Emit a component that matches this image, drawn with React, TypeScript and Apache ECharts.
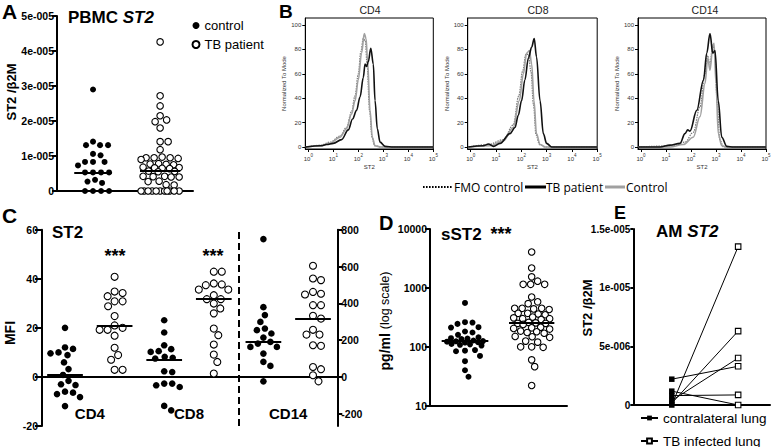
import React, { useEffect, useRef } from "react";
import * as echarts from "echarts";

const FONT = "'Liberation Sans', Arial, Helvetica, sans-serif";
const OPEN = "'Open Sans', 'Noto Sans', sans-serif";

// ---------------- Panel A : PBMC ST2 / β2M ----------------
const A_GROUPS = ["control", "TB patient"];
const A_CONTROL = [2.9e-5, 1.41e-5, 1.31e-5, 1.31e-5, 1.31e-5, 1.06e-5, 1.02e-5, 0.83e-5, 0.83e-5, 0.83e-5, 0.73e-5,
  0.53e-5, 0.53e-5, 0.53e-5, 0.53e-5, 0.32e-5, 0.27e-5, 0.23e-5, 0, 0, 0, 0];
const A_TB = [4.26e-5, 2.72e-5, 2.43e-5, 2.15e-5, 2.03e-5, 1.98e-5, 1.8e-5, 1.41e-5, 1.41e-5, 1.18e-5,
  0.97e-5, 0.95e-5, 0.95e-5, 0.95e-5, 0.93e-5, 0.9e-5, 0.78e-5, 0.77e-5, 0.76e-5, 0.75e-5,
  0.68e-5, 0.67e-5, 0.66e-5, 0.65e-5, 0.64e-5, 0.57e-5, 0.56e-5, 0.55e-5, 0.42e-5, 0.42e-5, 0.41e-5, 0.4e-5, 0.4e-5,
  0.28e-5, 0.27e-5, 0.18e-5, 0.17e-5, 0, 0, 0, 0, 0, 0, 0, 0, 0, 0, 0];
const A_MEDIANS = [0.51e-5, 0.57e-5];

// ---------------- Panel B : flow histograms (x = log10 ST2, y = % of mode) ----------------
const B_PANELS = ["CD4", "CD8", "CD14"];
const B_LEGEND = ["FMO control", "TB patient", "Control"];
const CD4_FMO = [[-0.1, 0], [0.5, 1.5], [0.87, 4], [1.27, 9], [1.53, 16], [1.73, 29], [1.87, 42], [2.0, 60], [2.1, 78], [2.2, 89], [2.28, 87], [2.35, 68], [2.45, 30], [2.55, 8], [2.65, 1], [2.9, 0], [5, 0]];
const CD4_TB = [[-0.1, 0], [0.5, 1], [0.73, 2], [1.0, 3], [1.33, 6], [1.6, 14], [1.77, 23], [1.93, 30], [2.07, 41], [2.2, 57], [2.27, 68], [2.33, 66], [2.4, 70], [2.5, 81], [2.6, 68], [2.67, 38], [2.76, 15], [2.87, 4], [3.07, 0.5], [3.4, 0], [5, 0]];
const CD4_CONTROL = [[-0.1, 0], [0.5, 1], [0.87, 3], [1.27, 8], [1.53, 15], [1.73, 27], [1.87, 38], [2.0, 55], [2.13, 77], [2.24, 93], [2.31, 89], [2.37, 71], [2.47, 30], [2.56, 8], [2.67, 1], [2.9, 0], [5, 0]];
const CD8_FMO = [[-0.1, 0], [0.7, 2], [1.29, 6], [1.68, 18], [1.9, 42], [2.05, 62], [2.18, 76], [2.28, 76], [2.38, 62], [2.48, 35], [2.58, 10], [2.72, 2], [2.95, 0], [5, 0]];
const CD8_TB = [[-0.1, 0], [0.5, 1], [0.7, 2.5], [0.9, 0.5], [1.16, 3], [1.55, 11], [1.75, 16], [1.88, 26], [2.01, 38], [2.14, 55], [2.28, 73], [2.41, 82], [2.51, 89], [2.6, 74], [2.74, 38], [2.87, 11], [3.0, 3], [3.2, 0], [5, 0]];
const CD8_CONTROL = [[-0.1, 0], [0.76, 1], [1.29, 5], [1.68, 16], [1.92, 38], [2.08, 60], [2.21, 77], [2.32, 79], [2.41, 68], [2.5, 38], [2.6, 11], [2.74, 2], [2.95, 0], [5, 0]];
const CD14_FMO = [[-0.1, 0], [1.3, 1], [1.76, 4], [2.09, 12], [2.36, 33], [2.56, 60], [2.66, 75], [2.76, 68], [2.87, 84], [2.95, 78], [3.05, 35], [3.15, 6], [3.3, 0], [5, 0]];
const CD14_TB = [[-0.1, 0], [0.76, 0], [1.16, 1.5], [1.56, 3], [1.76, 11], [1.87, 14], [1.96, 13], [2.23, 30], [2.5, 55], [2.63, 77], [2.76, 93], [2.87, 77], [2.96, 79], [3.09, 38], [3.23, 8], [3.43, 0.5], [3.7, 0], [5, 0]];
const CD14_CONTROL = [[-0.1, 0], [1.16, 0], [1.69, 2], [2.09, 8], [2.36, 25], [2.56, 52], [2.67, 73], [2.76, 63], [2.87, 82], [2.92, 85], [3.0, 52], [3.09, 11], [3.23, 1], [3.45, 0], [5, 0]];

// ---------------- Panel C : ST2 MFI ----------------
const C_GROUPS = ["CD4", "CD8", "CD14"];
const C_CD4_CONTROL = [20, 12, 11.4, 10, 9.6, 8.9, 5.9, 3.2, 0.8, -1.6, -3, -3.3, -6, -6.4, -7, -8.2, -11.9];
const C_CD4_TB = [40.8, 34.8, 34.2, 32.9, 30.8, 30.8, 28.8, 24.8, 21, 20, 19.2, 19.2, 16.8, 11.9, 8.9, 7, 2.9, 2.9];
const C_CD8_CONTROL = [23.1, 18.1, 12.9, 11.3, 10.5, 10.2, 8.2, 7.8, 7.5, 2.3, 2, -2.7, -2.7, -3.4, -4.1, -11.8, -13.6];
const C_CD8_TB = [42.9, 42.9, 38.1, 37.7, 37.4, 35.6, 35.6, 33.3, 31.7, 31.7, 29.9, 27.9, 25.9, 19.7, 17, 13.2, 9.1, 6.1, 1.4];
const C_CD14_CONTROL = [749, 379, 336, 299, 263, 254, 236, 214, 190, 181, 163, 163, 127, 82, 60, -24];
const C_CD14_TB = [604, 535, 526, 462, 452, 448, 390, 390, 332, 317, 256, 230, 230, 172, 169, 54, 42, 9, -24];
const C_MEDIANS = [1, 21, 7, 32, 190, 317];

// ---------------- Panel D : serum sST2 (pg/ml) ----------------
const D_CONTROL = [555, 262, 258, 245, 215, 212, 182, 175, 160, 145, 140, 138, 135, 128, 125, 124, 122, 120, 118, 112, 110, 108, 105, 88, 86, 84, 70, 57, 40, 31];
const D_TB = [4070, 2180, 1540, 1300, 1150, 1150, 1150, 700, 580, 540, 450, 450, 450, 440, 430, 370, 370, 360, 350, 320, 310, 300, 300, 290,
  260, 255, 250, 250, 240, 215, 210, 205, 200, 185, 180, 175, 170, 150, 148, 145, 125, 120, 100, 100, 98, 60, 46, 22];
const D_MEDIANS = [125, 255];

// ---------------- Panel E : AM ST2 paired ----------------
const E_LEGEND = ["contralateral lung", "TB infected lung"];
const E_CONTRA = [2.2e-6, 1.18e-6, 0.8e-6, 0, 0.15e-6, 0.38e-6];
const E_INFECTED = [3.3e-6, 0, 0.86e-6, 13.5e-6, 6.3e-6, 4.0e-6];

// ---------- helpers ----------
function swarm(values: number[], center: number, pxPerX: number, yPx: (v: number) => number, d: number, maxHalf: number) {
  const placed: Array<[number, number]> = [];
  const out: number[][] = [];
  const sorted = [...values].sort((a, b) => b - a);
  for (const v of sorted) {
    const py = yPx(v);
    let chosen: number | null = null;
    for (let k = 0; k <= maxHalf * 4; k++) {
      const off = (k % 2 === 1 ? 1 : -1) * Math.ceil(k / 2) * 0.5 + 0;
      if (placed.every(([x, y]) => (x - off) ** 2 + (y - py) ** 2 >= d * d)) { chosen = off; break; }
    }
    if (chosen === null) {
      let best = 0, bestD = -1;
      for (let off = -maxHalf; off <= maxHalf; off += 0.5) {
        const md = Math.min(...placed.map(([x, y]) => (x - off) ** 2 + (y - py) ** 2));
        if (md > bestD) { bestD = md; best = off; }
      }
      chosen = best;
    }
    placed.push([chosen, py]);
    out.push([center + chosen / pxPerX, v]);
  }
  return out;
}

function prismExp(v: number) {
  if (Math.abs(v) < 1e-12) return "0";
  const e = Math.floor(Math.log10(Math.abs(v)) + 1e-9);
  const m = +(v / Math.pow(10, e)).toFixed(2);
  return `${m}e-${String(-e).padStart(3, "0")}`;
}

const filled = (size: number) => ({ symbol: "circle", symbolSize: size, itemStyle: { color: "#000", opacity: 1 } });
const open = (size: number) => ({ symbol: "circle", symbolSize: size, itemStyle: { color: "#fff", borderColor: "#000", borderWidth: 1.1, opacity: 1 } });

function median(center: number, half: number, value: number) {
  return {
    silent: true, symbol: ["none", "none"], label: { show: false },
    lineStyle: { color: "#000", width: 2, type: "solid", opacity: 1 },
    emphasis: { disabled: true },
    data: [[{ coord: [center - half, value] }, { coord: [center + half, value] }]],
  };
}

const tickLabel = (size = 10) => ({ color: "#000", fontFamily: FONT, fontWeight: "bold", fontSize: size });

function txt(text: string, x: number, y: number, style: any = {}, extra: any = {}) {
  return {
    type: "text", x, y, silent: true, ...extra,
    style: { text, fill: "#000", fontFamily: FONT, fontSize: 17, fontWeight: "bold", align: "left", verticalAlign: "middle", ...style },
  };
}

function buildOption() {
  const series: any[] = [];

  // ---- A ----
  const aPx = (v: number) => (v / 5e-5) * 175;
  series.push({ type: "scatter", name: A_GROUPS[0], xAxisIndex: 0, yAxisIndex: 0, ...filled(6), z: 3,
    data: swarm(A_CONTROL, 0, 67, aPx, 7.6, 18), markLine: median(0, 0.28, A_MEDIANS[0]) });
  series.push({ type: "scatter", name: A_GROUPS[1], xAxisIndex: 0, yAxisIndex: 0, ...open(6.5), z: 3,
    data: swarm(A_TB, 1, 67, aPx, 7.6, 19), markLine: median(1, 0.3, A_MEDIANS[1]) });

  // ---- B ----
  const curves = [
    [CD4_FMO, CD4_TB, CD4_CONTROL],
    [CD8_FMO, CD8_TB, CD8_CONTROL],
    [CD14_FMO, CD14_TB, CD14_CONTROL],
  ];
  curves.forEach(([fmo, tb, ctrl], i) => {
    const base = { type: "line", xAxisIndex: i + 1, yAxisIndex: i + 1, smooth: 0.35, smoothMonotone: "x", showSymbol: false, symbol: "none", silent: true };
    series.push({ ...base, name: `B ${B_LEGEND[0]} ${i}`, data: fmo, z: 2, lineStyle: { color: "#777", width: 1.2, type: [1.5, 1] } });
    series.push({ ...base, name: `B ${B_LEGEND[2]} ${i}`, data: ctrl, z: 3, lineStyle: { color: "#a0a0a0", width: 1.6 } });
    series.push({ ...base, name: `B ${B_LEGEND[1]} ${i}`, data: tb, z: 4, lineStyle: { color: "#111", width: 1.6 } });
  });

  // ---- C ----
  const cLeft = (v: number) => (v / 20) * 49.05;
  const cRight = (v: number) => (v / 800) * 60 / 20 * 49.05;
  const cSets = [C_CD4_CONTROL, C_CD4_TB, C_CD8_CONTROL, C_CD8_TB, C_CD14_CONTROL, C_CD14_TB];
  cSets.forEach((vals, k) => {
    const right = k >= 4;
    const isTB = k % 2 === 1;
    series.push({
      type: "scatter", name: `C ${C_GROUPS[Math.floor(k / 2)]} ${isTB ? "TB" : "control"}`,
      xAxisIndex: 4, yAxisIndex: right ? 5 : 4, z: 3,
      ...(isTB ? open(7) : filled(6.6)),
      data: swarm(vals, k, 49.6, right ? cRight : cLeft, 8, 20),
      markLine: median(k, 0.36, C_MEDIANS[k]),
    });
  });
  // divider between T cells and monocytes + group labels
  series.push({
    type: "scatter", name: "C labels", xAxisIndex: 4, yAxisIndex: 4, silent: true, symbol: "circle", symbolSize: 0,
    itemStyle: { color: "#000", opacity: 1 },
    data: C_GROUPS.map((g, i) => ({ name: g, value: [2 * i + 0.5, -20] })),
    label: { show: true, position: "top", distance: 5, formatter: "{b}", color: "#000", opacity: 1, fontFamily: FONT, fontWeight: "bold", fontSize: 15 },
    markLine: { silent: true, symbol: ["none", "none"], label: { show: false }, lineStyle: { color: "#000", width: 2, type: [7, 4], opacity: 1 }, data: [{ xAxis: 3.5 }] },
  });

  // ---- D ----
  const dPx = (v: number) => Math.log10(v) * 59;
  series.push({ type: "scatter", name: "D control", xAxisIndex: 5, yAxisIndex: 6, ...filled(6), z: 3,
    data: swarm(D_CONTROL, 0, 66.7, dPx, 7.4, 18), markLine: median(0, 0.35, D_MEDIANS[0]) });
  series.push({ type: "scatter", name: "D TB", xAxisIndex: 5, yAxisIndex: 6, ...open(6.5), z: 3,
    data: swarm(D_TB, 1, 66.7, dPx, 7.4, 18), markLine: median(1, 0.34, D_MEDIANS[1]) });

  // ---- E ----
  E_CONTRA.forEach((c, i) => {
    series.push({
      type: "line", name: `E pair ${i}`, xAxisIndex: 6, yAxisIndex: 7, symbol: "rect", symbolSize: 5.5, showAllSymbol: true, silent: true,
      lineStyle: { color: "#000", width: 1 }, itemStyle: { color: "#000", opacity: 1 }, z: 3,
      data: [
        { value: [0, c], itemStyle: { color: "#000" } },
        { value: [1, E_INFECTED[i]], itemStyle: { color: "#fff", borderColor: "#000", borderWidth: 1.1 } },
      ],
    });
  });
  series.push({ type: "line", name: E_LEGEND[0], xAxisIndex: 6, yAxisIndex: 7, data: [], symbol: "rect", symbolSize: 6,
    lineStyle: { color: "#000", width: 1 }, itemStyle: { color: "#000" } });
  series.push({ type: "line", name: E_LEGEND[1], xAxisIndex: 6, yAxisIndex: 7, data: [], symbol: "rect", symbolSize: 6,
    lineStyle: { color: "#000", width: 1 }, itemStyle: { color: "#fff", borderColor: "#000", borderWidth: 1.1 } });

  const blackLine = (w = 2) => ({ show: true, onZero: false, lineStyle: { color: "#000", width: w } });
  const noSplit = { show: false };

  const gridBase = { containLabel: false, outerBoundsMode: "none" };
  const box = { show: true, borderColor: "#000", borderWidth: 1, backgroundColor: "transparent" };
  const grid = [
    { ...gridBase, left: 57, top: 16, width: 136, height: 175 },
    { ...gridBase, ...box, left: 305.3, top: 18, width: 128, height: 131 },
    { ...gridBase, ...box, left: 467.7, top: 18, width: 129.5, height: 131 },
    { ...gridBase, ...box, left: 638, top: 18, width: 128, height: 131 },
    { ...gridBase, left: 42, top: 229.7, width: 295.3, height: 196.3 },
    { ...gridBase, left: 430, top: 229, width: 137, height: 176.7 },
    { ...gridBase, left: 633.3, top: 229, width: 136.7, height: 176 },
  ];

  const bX = (gi: number) => ({
    gridIndex: gi, type: "value", min: -0.12, max: 5, splitNumber: 5,
    axisLine: blackLine(1), splitLine: noSplit,
    axisTick: { show: true, length: 3, lineStyle: { color: "#000", width: 1 } },
    axisLabel: {
      show: true, showMinLabel: false, margin: 4, color: "#333",
      formatter: (v: number) => `{b|10}{s|${Math.round(v)}}`,
      rich: { b: { fontSize: 6, fontFamily: FONT, color: "#333", verticalAlign: "bottom", lineHeight: 9 }, s: { fontSize: 4.5, fontFamily: FONT, color: "#333", verticalAlign: "top", lineHeight: 9 } },
    },
    name: "ST2", nameLocation: "middle", nameGap: 15, nameTextStyle: { fontSize: 6, fontFamily: FONT, color: "#333" },
  });
  const bY = (gi: number) => ({
    gridIndex: gi, type: "value", min: -1.65, max: 105.8, splitNumber: 5,
    axisLine: blackLine(1), splitLine: noSplit,
    axisTick: { show: true, length: 3, lineStyle: { color: "#000", width: 1 } },
    axisLabel: { show: true, showMinLabel: false, showMaxLabel: false, margin: 4, fontSize: 6, fontFamily: FONT, color: "#333" },
    name: "Normalized To Mode", nameLocation: "middle", nameRotate: 90, nameGap: 18,
    nameTextStyle: { fontSize: 6, fontFamily: FONT, color: "#333" },
  });

  const xAxis = [
    { gridIndex: 0, type: "value", min: -0.537, max: 1.49, axisLine: blackLine(2), axisTick: { show: false }, axisLabel: { show: false }, splitLine: noSplit },
    bX(1), bX(2), bX(3),
    { gridIndex: 4, type: "value", min: -0.464, max: 5.49, axisLine: { show: true, onZero: true, lineStyle: { color: "#000", width: 2 } }, axisTick: { show: false }, axisLabel: { show: false }, splitLine: noSplit },
    { gridIndex: 5, type: "value", min: -0.525, max: 1.53, axisLine: blackLine(2), axisTick: { show: false }, axisLabel: { show: false }, splitLine: noSplit },
    { gridIndex: 6, type: "value", min: -0.58, max: 1.48, axisLine: blackLine(2), axisTick: { show: false }, axisLabel: { show: false }, splitLine: noSplit },
  ];

  const yTick = (len: number) => ({ show: true, length: len, lineStyle: { color: "#000", width: 2 } });
  const yAxis = [
    { gridIndex: 0, type: "value", min: 0, max: 5e-5, interval: 1e-5, axisLine: blackLine(2), axisTick: yTick(5), splitLine: noSplit,
      axisLabel: { ...tickLabel(10.5), margin: 3, formatter: (v: number) => prismExp(v) } },
    bY(1), bY(2), bY(3),
    { gridIndex: 4, type: "value", min: -20, max: 60, interval: 20, axisLine: blackLine(2), axisTick: yTick(7), splitLine: noSplit,
      axisLabel: { ...tickLabel(10.5), margin: 4 } },
    { gridIndex: 4, type: "value", position: "right", min: -266.67, max: 800, splitNumber: 5, axisLine: blackLine(2), axisTick: yTick(5), splitLine: noSplit,
      axisLabel: { ...tickLabel(10.5), margin: 4, showMinLabel: false } },
    { gridIndex: 5, type: "log", logBase: 10, min: 10, max: 10000, axisLine: blackLine(2), axisTick: yTick(5), splitLine: noSplit,
      axisLabel: { ...tickLabel(10.5), margin: 3, formatter: (v: number) => String(Math.round(v)) } },
    { gridIndex: 6, type: "value", min: 0, max: 1.5e-5, interval: 5e-6, axisLine: blackLine(2), axisTick: yTick(3), splitLine: noSplit,
      axisLabel: { ...tickLabel(10), margin: 3, formatter: (v: number) => prismExp(v) } },
  ];

  const rot = { rotation: Math.PI / 2 };
  const center = { align: "center" };
  const graphic: any[] = [
    txt("A", 2, 11, { fontSize: 21 }),
    txt("B", 279, 11, { fontSize: 19 }),
    txt("C", 2, 215, { fontSize: 21 }),
    txt("D", 379, 223, { fontSize: 20 }),
    txt("E", 614, 213, { fontSize: 18 }),
    txt("", 68, 17, { text: "{b|PBMC }{i|ST2}", rich: { b: { fontSize: 17, fontWeight: "bold", fontFamily: FONT }, i: { fontSize: 17, fontWeight: "bold", fontStyle: "italic", fontFamily: FONT } } }),
    txt("ST2 /β2M", 11, 92, { ...center, fontSize: 13 }, rot),
    ...B_PANELS.map((p, i) => txt(p, [370, 538, 705][i], 10, { ...center, fontSize: 10.5, fontWeight: "normal", fill: "#222" })),
    // B legend
    { type: "line", silent: true, shape: { x1: 423, y1: 187, x2: 453, y2: 187 }, style: { stroke: "#000", lineWidth: 2, lineDash: [1.6, 1.4] } },
    txt(B_LEGEND[0], 454, 187, { fontFamily: OPEN, fontSize: 12, fontWeight: "normal" }),
    { type: "line", silent: true, shape: { x1: 525, y1: 187, x2: 546, y2: 187 }, style: { stroke: "#000", lineWidth: 3 } },
    txt(B_LEGEND[1], 546, 187, { fontFamily: OPEN, fontSize: 12, fontWeight: "normal" }),
    { type: "line", silent: true, shape: { x1: 605, y1: 187, x2: 625, y2: 187 }, style: { stroke: "#a0a0a0", lineWidth: 3 } },
    txt(B_LEGEND[2], 626, 187, { fontFamily: OPEN, fontSize: 12, fontWeight: "normal" }),
    // C
    txt("ST2", 52, 232, { fontSize: 17 }),
    txt("***", 115, 256, { ...center, fontSize: 18 }),
    txt("***", 213, 256, { ...center, fontSize: 18 }),
    txt("MFI", 10, 333, { ...center, fontSize: 14 }, rot),
    // D
    txt("sST2", 441, 234, { fontSize: 17 }),
    txt("***", 501, 234, { ...center, fontSize: 18 }),
    txt("", 385, 321, { ...center, text: "{b|pg/ml }{n|(log scale)}", rich: { b: { fontSize: 14, fontWeight: "bold", fontFamily: FONT }, n: { fontSize: 12.5, fontWeight: "normal", fontFamily: FONT } } }, rot),
    // E
    txt("", 656, 231, { text: "{b|AM }{i|ST2}", rich: { b: { fontSize: 17, fontWeight: "bold", fontFamily: FONT }, i: { fontSize: 17, fontWeight: "bold", fontStyle: "italic", fontFamily: FONT } } }),
    txt("ST2 /β2M", 587, 308, { ...center, fontSize: 13 }, rot),
  ];

  const eLegend = (name: string, top: number) => ({
    data: [name], left: 640, top, orient: "vertical", itemWidth: 17, itemHeight: 6, itemGap: 0, padding: 0, selectedMode: false,
    textStyle: { fontFamily: FONT, fontSize: 13.5, color: "#000" },
  });

  return {
    animation: false,
    backgroundColor: "#fff",
    textStyle: { fontFamily: FONT },
    grid, xAxis, yAxis, series, graphic,
    legend: [
      { data: A_GROUPS, left: 191.5, top: 19, orient: "vertical", itemWidth: 7, itemHeight: 7, itemGap: 6, padding: 0, selectedMode: false,
        textStyle: { fontFamily: FONT, fontSize: 13, color: "#000" } },
      eLegend(E_LEGEND[0], 411),
      eLegend(E_LEGEND[1], 434),
    ],
  };
}

export default function App() {
  const ref = useRef<HTMLDivElement>(null);
  useEffect(() => {
    if (!ref.current) return;
    const chart = echarts.init(ref.current, null, { renderer: "svg" });
    chart.setOption(buildOption() as any);
    return () => chart.dispose();
  }, []);
  return <div ref={ref} style={{ position: "absolute", left: 0, top: 0, width: 778, height: 447, background: "#fff" }} />;
}
